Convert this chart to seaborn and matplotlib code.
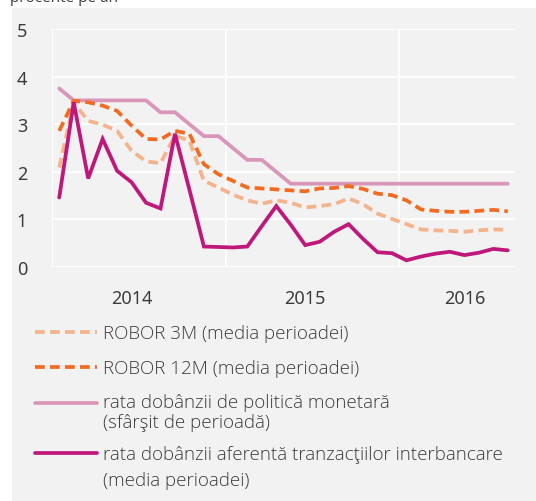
import numpy as np
import pandas as pd
import seaborn as sns
import matplotlib
matplotlib.use("Agg")
import matplotlib.pyplot as plt
from matplotlib.lines import Line2D
from matplotlib.patches import Rectangle

# ---------------- data ----------------
months = pd.period_range("2014-01", "2016-08", freq="M").astype(str).tolist()

robor_3m = [2.09, 3.45, 3.07, 2.99, 2.86, 2.44, 2.22, 2.18, 2.76, 2.65,
            1.81, 1.67, 1.52, 1.40, 1.33, 1.40, 1.35, 1.25, 1.28, 1.32,
            1.44, 1.32, 1.12, 1.01, 0.90, 0.79, 0.77, 0.76, 0.74, 0.77,
            0.79, 0.78]
robor_12m = [2.86, 3.49, 3.46, 3.39, 3.28, 2.97, 2.69, 2.68, 2.86, 2.80,
             2.16, 1.95, 1.81, 1.67, 1.65, 1.63, 1.61, 1.59, 1.65, 1.66,
             1.70, 1.64, 1.54, 1.51, 1.40, 1.21, 1.18, 1.16, 1.16, 1.18,
             1.20, 1.17]
policy_rate = [3.75, 3.50, 3.50, 3.50, 3.50, 3.50, 3.50, 3.25, 3.25, 3.00,
               2.75, 2.75, 2.50, 2.25, 2.25, 2.00, 1.75, 1.75, 1.75, 1.75,
               1.75, 1.75, 1.75, 1.75, 1.75, 1.75, 1.75, 1.75, 1.75, 1.75,
               1.75, 1.75]
interbank_rate = [1.46, 3.46, 1.86, 2.69, 2.02, 1.78, 1.35, 1.23, 2.80, 1.62,
                  0.43, 0.42, 0.41, 0.43, 0.86, 1.28, 0.89, 0.46, 0.53, 0.74,
                  0.90, 0.59, 0.31, 0.29, 0.14, 0.22, 0.28, 0.32, 0.25, 0.30,
                  0.38, 0.35]

year_labels = ["2014", "2015", "2016"]
year_label_months = ["2014-06", "2015-06", "2016-05"]
year_start_months = ["2014-01", "2015-01", "2016-01"]
y_ticks = [0, 1, 2, 3, 4, 5]

label_3m = "ROBOR 3M (media perioadei)"
label_12m = "ROBOR 12M (media perioadei)"
label_policy = ["rata dobânzii de politică monetară", "(sfârşit de perioadă)"]
label_interbank = ["rata dobânzii aferentă tranzacţiilor interbancare", "(media perioadei)"]
unit_label = "procente pe an"

# ---------------- styling ----------------
BG = "#f2f2f2"
C_3M = "#f4b38b"
C_12M = "#f26b21"
C_POL = "#d996b9"
C_IB = "#c0187a"
TXT = "#3c3c3c"

sns.set_style("white", {"axes.facecolor": BG})
plt.rcParams["font.family"] = ["Open Sans", "DejaVu Sans"]

W, H = 536, 502
fig = plt.figure(figsize=(W / 100, H / 100), dpi=100, facecolor="white")
fig.patches.append(Rectangle((12 / W, 0), 1 - 12 / W, 1 - 9 / H,
                             transform=fig.transFigure, facecolor=BG,
                             edgecolor="none", zorder=-10))

ax = fig.add_axes([52 / W, 1 - 268 / H, (515 - 52) / W, (268 - 30) / H])
ax.set_facecolor(BG)
ax.set_zorder(1)

df = pd.DataFrame({"month": months, "x": np.arange(len(months)),
                   "robor_3m": robor_3m, "robor_12m": robor_12m,
                   "policy": policy_rate, "interbank": interbank_rate})

dash = (0, (2.6, 1.4))
sns.lineplot(data=df, x="x", y="policy", ax=ax, color=C_POL, lw=2.7,
             solid_joinstyle="miter", zorder=3)
sns.lineplot(data=df, x="x", y="robor_3m", ax=ax, color=C_3M, lw=2.7,
             linestyle=dash, dash_capstyle="butt", zorder=4)
sns.lineplot(data=df, x="x", y="robor_12m", ax=ax, color=C_12M, lw=2.7,
             linestyle=dash, dash_capstyle="butt", zorder=5)
sns.lineplot(data=df, x="x", y="interbank", ax=ax, color=C_IB, lw=2.7,
             solid_joinstyle="miter", zorder=6)

# axes
ax.set_xlim(-0.5, len(months) - 0.5)
ax.set_ylim(0, 5)
ax.set_xlabel("")
ax.set_ylabel("")
for s in ax.spines.values():
    s.set_visible(False)

ax.set_yticks(y_ticks)
ax.set_yticklabels([str(v) for v in y_ticks])
xt = [months.index(m) for m in year_label_months]
ax.set_xticks(xt)
ax.set_xticklabels(year_labels)
ax.set_xticks([months.index(m) - 0.5 for m in year_start_months], minor=True)
ax.tick_params(axis="both", which="both", length=0)
ax.tick_params(axis="y", pad=18, labelsize=13, labelcolor=TXT)
ax.tick_params(axis="x", pad=16, labelsize=13, labelcolor=TXT)
for lab in ax.get_xticklabels() + ax.get_yticklabels():
    lab.set_family(["Noto Sans", "DejaVu Sans"])
    lab.set_fontstretch("condensed")
ax.grid(axis="y", which="major", color="white", lw=1.3)
ax.grid(axis="x", which="minor", color="white", lw=1.3)
ax.grid(axis="x", which="major", visible=False)
ax.set_axisbelow(True)

# unit label (clipped at the top of the figure, as in the reference)
fig.text(10 / W, 1 - 2 / H, unit_label, fontsize=11, color=TXT, va="baseline")

# legend, drawn manually
def leg_handle(yc, color, ls):
    fig.add_artist(Line2D([35 / W, 97 / W], [1 - yc / H, 1 - yc / H],
                          transform=fig.transFigure, color=color, lw=2.7,
                          linestyle=ls, dash_capstyle="butt"))

def leg_text(yc, s):
    fig.text(103 / W, 1 - (yc + 6) / H, s, fontsize=13.5, color=TXT,
             fontweight="light", va="baseline", ha="left")

leg_handle(333, C_3M, dash)
leg_text(333, label_3m)
leg_handle(368, C_12M, dash)
leg_text(368, label_12m)
leg_handle(404, C_POL, "-")
leg_text(402, label_policy[0])
leg_text(422, label_policy[1])
leg_handle(454, C_IB, "-")
leg_text(454, label_interbank[0])
leg_text(480, label_interbank[1])

fig.savefig("out.png", dpi=100, facecolor="white")
